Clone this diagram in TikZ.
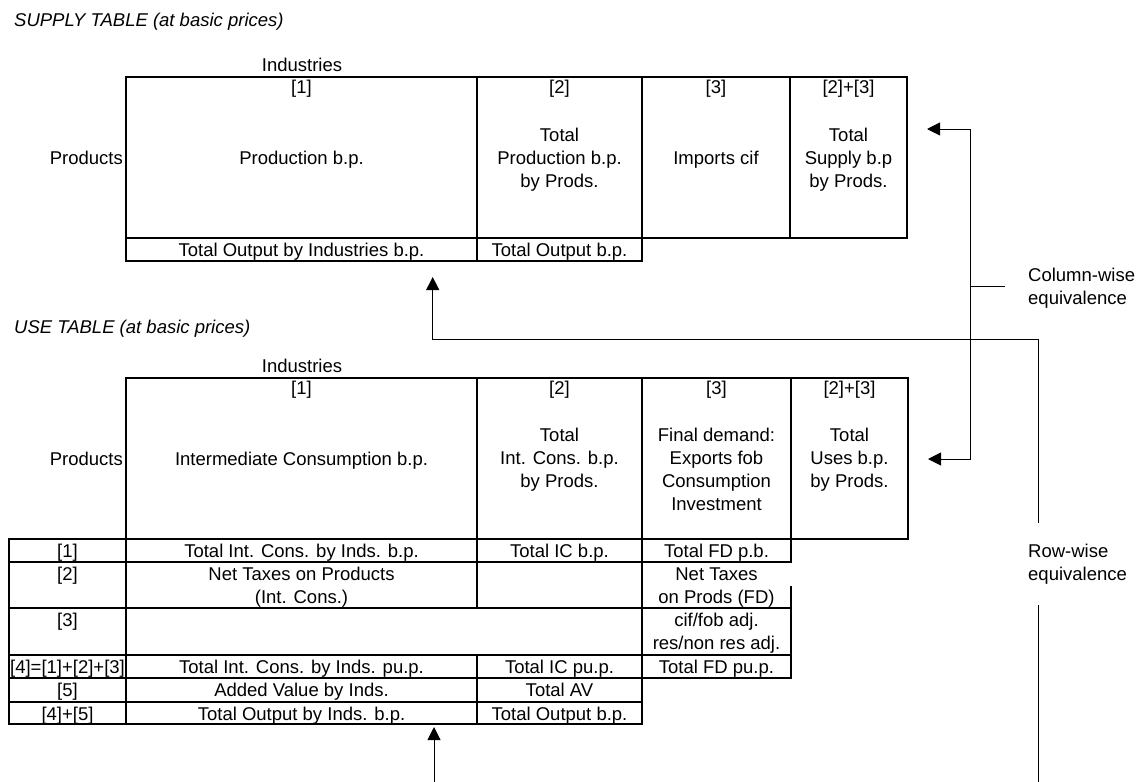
\documentclass[tikz,border=0pt]{standalone}
\usepackage{fontspec}
\setmainfont{Liberation Sans}
\usetikzlibrary{arrows.meta}
\newcommand\mlines[1]{\begin{tabular}[t]{@{}c@{}}#1\end{tabular}}
\newcommand\mlinesl[1]{\begin{tabular}[t]{@{}l@{}}#1\end{tabular}}
\begin{document}
\begin{tikzpicture}[x=1pt,y=-1pt,
  every node/.style={inner sep=0pt, anchor=base, font=\fontsize{18.5}{23}\selectfont},
  grid/.style={line width=1.8pt, line cap=rect},
  conn/.style={line width=1pt},
  arr/.style={conn, -{Triangle[length=13pt,width=13pt]}},
  darr/.style={conn, {Triangle[length=13pt,width=13pt]}-{Triangle[length=13pt,width=13pt]}},
  ttl/.style={anchor=base west, font=\fontsize{18.5}{23}\selectfont\itshape},
  lab/.style={anchor=base west}]
\useasboundingbox (0,0) rectangle (1141,782);

% ---------------- SUPPLY TABLE ----------------
\node[ttl] (suptitle) at (14,26) {SUPPLY TABLE (at basic prices)};
\node (supind) at (302,71) {Industries};
\node[anchor=base east] (supprod) at (123,164) {Products};

\draw[grid] (126,77) rectangle (907,238);
\draw[grid] (477,77) -- (477,261);
\draw[grid] (642,77) -- (642,261);
\draw[grid] (790,77) -- (790,238);
\draw[grid] (126,238) -- (126,261) -- (642,261);

\node (s1h) at (301.5,93) {[1]};
\node (s1t) at (301.5,164) {Production b.p.};
\node (s2h) at (559.5,93) {[2]};
\node (s2t) at (559.5,141.7) {\mlines{Total\\Production b.p.\\by Prods.}};
\node (s3h) at (716,93) {[3]};
\node (s3t) at (716,164) {Imports cif};
\node (s4h) at (848.5,93) {[2]+[3]};
\node (s4t) at (848.5,141.7) {\mlines{Total\\Supply b.p\\by Prods.}};
\node (s1b) at (301.5,256.5) {Total Output by Industries b.p.};
\node (s2b) at (559.5,256.5) {Total Output b.p.};

% ---------------- USE TABLE ----------------
\node[ttl] (usetitle) at (14,333) {USE TABLE (at basic prices)};
\node (useind) at (302,372) {Industries};
\node[anchor=base east] (useprod) at (123,465) {Products};

\draw[grid] (126,378) rectangle (908,539);
\draw[grid] (477,378) -- (477,608);
\draw[grid] (477,655) -- (477,724);
\draw[grid] (642,378) -- (642,724);
\draw[grid] (791,378) -- (791,562);
\draw[grid] (791,587) -- (791,678);
\draw[grid] (126,539) -- (126,724);
\draw[grid] (9,539) -- (126,539);
\draw[grid] (9,539) -- (9,724) -- (642,724);
\foreach \yy in {562,608,655,678} {\draw[grid] (9,\yy) -- (791,\yy);}
\draw[grid] (9,702) -- (642,702);

\node (u1h) at (301.5,394) {[1]};
\node (u1t) at (301.5,465) {Intermediate Consumption b.p.};
\node (u2h) at (559.5,394) {[2]};
\node (u2t) at (559.5,441.7) {\mlines{Total\\Int. Cons. b.p.\\by Prods.}};
\node (u3h) at (716.5,394) {[3]};
\node (u3t) at (716.5,441.7) {\mlines{Final demand:\\Exports fob\\Consumption\\Investment}};
\node (u4h) at (849.5,394) {[2]+[3]};
\node (u4t) at (849.5,441.7) {\mlines{Total\\Uses b.p.\\by Prods.}};

% lower rows
\node (r1l) at (67.5,557) {[1]};
\node (r1a) at (301.5,557) {Total Int. Cons. by Inds. b.p.};
\node (r1b) at (559.5,557) {Total IC b.p.};
\node (r1c) at (716.5,557) {Total FD p.b.};

\node (r2l) at (67.5,580.5) {[2]};
\node (r2a) at (301.5,580.5) {\mlines{Net Taxes on Products\\(Int. Cons.)}};
\node (r2c) at (716.5,580.5) {\mlines{Net Taxes\\on Prods (FD)}};

\node (r3l) at (67.5,626.5) {[3]};
\node (r3c) at (716.5,626.5) {\mlines{cif/fob adj.\\res/non res adj.}};

\node (r4l) at (67.5,673) {[4]=[1]+[2]+[3]};
\node (r4a) at (301.5,673) {Total Int. Cons. by Inds. pu.p.};
\node (r4b) at (559.5,673) {Total IC pu.p.};
\node (r4c) at (716.5,673) {Total FD pu.p.};

\node (r5l) at (67.5,696.5) {[5]};
\node (r5a) at (301.5,696.5) {Added Value by Inds.};
\node (r5b) at (559.5,696.5) {Total AV};

\node (r6l) at (67.5,720) {[4]+[5]};
\node (r6a) at (301.5,720) {Total Output by Inds. b.p.};
\node (r6b) at (559.5,720) {Total Output b.p.};

% ---------------- CONNECTORS ----------------
\coordinate (cwtop) at (927,129);
\coordinate (cwb1) at (970,129);
\coordinate (cwb2) at (970,459);
\coordinate (cwbot) at (928,459);
\coordinate (cwjoin) at (970,286);
\coordinate (cwend) at (1005,286);
\node[lab] (colw) at (1028,281.5) {\mlinesl{Column-wise\\equivalence}};
\draw[darr] (cwtop) -- (cwb1) -- (cwb2) -- (cwbot);
\draw[conn] (cwjoin) -- (cwend);

\coordinate (rwa) at (1038,523);
\coordinate (rwb) at (1038,339);
\coordinate (rwc) at (432.7,339);
\coordinate (suptip) at (432.7,277);
\coordinate (rwd) at (1038,605);
\coordinate (rwe) at (1038,782);
\coordinate (usebase) at (434,782);
\coordinate (usetip) at (434,727);
\node[lab] (roww) at (1028,557) {\mlinesl{Row-wise\\equivalence}};
\draw[arr] (rwa) -- (rwb) -- (rwc) -- (suptip);
\draw[conn] (rwd) -- (rwe);
\draw[arr] (usebase) -- (usetip);
\end{tikzpicture}
\end{document}
